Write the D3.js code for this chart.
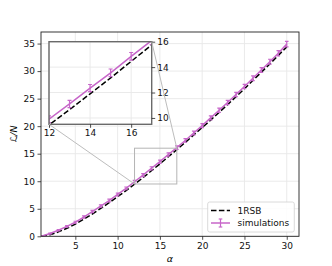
<!DOCTYPE html>
<html>
<head>
<meta charset="utf-8">
<script src="https://cdn.jsdelivr.net/npm/d3@7"></script>
<style>
  body { margin: 0; background: #fff; }
  text { font-family: "DejaVu Sans", sans-serif; }
</style>
</head>
<body>
<div id="chart"></div>
<script>
var width = 332, height = 266;

// data
var alpha = [1, 2, 3, 4, 5, 6, 7, 8, 9, 10, 11, 12, 13, 14, 15,
             16, 17, 18, 19, 20, 21, 22, 23, 24, 25, 26, 27, 28, 29, 30];
var simValues = [0.0, 0.5, 1.1, 1.8, 2.55, 3.5, 4.5, 5.5, 6.5, 7.6, 8.7, 9.9, 11.1, 12.35, 13.55,
                 14.85, 16.1, 17.4, 18.75, 20.1, 21.5, 22.9, 24.3, 25.75, 27.2, 28.7, 30.2, 31.7, 33.25, 34.9];
var simErrors = [0.05, 0.1, 0.12, 0.15, 0.18, 0.2, 0.2, 0.22, 0.24, 0.25, 0.25, 0.27, 0.28, 0.28, 0.3,
                 0.3, 0.32, 0.32, 0.34, 0.35, 0.36, 0.38, 0.38, 0.4, 0.4, 0.42, 0.44, 0.45, 0.48, 0.5];
var rsbValues = [0.0, 0.3, 0.8, 1.45, 2.2, 3.1, 4.05, 5.05, 6.1, 7.2, 8.3, 9.45, 10.65, 11.9, 13.15,
                 14.45, 15.75, 17.05, 18.4, 19.75, 21.1, 22.5, 23.9, 25.35, 26.8, 28.3, 29.8, 31.3, 32.85, 34.4];
var xTicks = [5, 10, 15, 20, 25, 30];
var yTicks = [0, 5, 10, 15, 20, 25, 30, 35];
var insetXTicks = [12, 14, 16];
var insetYTicks = [10, 12, 14, 16];
var legendLabels = ["1RSB", "simulations"];

var simColor = "#c766c9";
var gridColor = "#e8e8e8";

var svg = d3.select('#chart').append('svg')
    .attr('width', width)
    .attr('height', height);

// main axes
var x = d3.scaleLinear().domain([0.94, 31.45]).range([41, 299]);
var y = d3.scaleLinear().domain([0, 37.1]).range([236.3, 32]);

var defs = svg.append('defs');
defs.append('clipPath').attr('id', 'mainClip').append('rect')
    .attr('x', 41).attr('y', 32).attr('width', 258).attr('height', 204.3);

var main = svg.append('g');

main.append('g').selectAll('line')
    .data(xTicks).enter().append('line')
    .attr('x1', d => x(d)).attr('x2', d => x(d))
    .attr('y1', 32).attr('y2', 236.3)
    .attr('stroke', gridColor).attr('stroke-width', 0.9);
main.append('g').selectAll('line')
    .data(yTicks).enter().append('line')
    .attr('x1', 41).attr('x2', 299)
    .attr('y1', d => y(d)).attr('y2', d => y(d))
    .attr('stroke', gridColor).attr('stroke-width', 0.9);

var line = d3.line();

var plot = main.append('g').attr('clip-path', 'url(#mainClip)');

function drawSeries(g, xs, ys, capW) {
  g.append('path')
      .attr('d', line.x((d, i) => xs(alpha[i])).y(d => ys(d))(rsbValues))
      .attr('fill', 'none')
      .attr('stroke', '#000')
      .attr('stroke-width', 1.5)
      .attr('stroke-dasharray', '5.5,2.4');
  g.append('path')
      .attr('d', line.x((d, i) => xs(alpha[i])).y(d => ys(d))(simValues))
      .attr('fill', 'none')
      .attr('stroke', simColor)
      .attr('stroke-width', 1.5);
  var eb = g.append('g').selectAll('g')
      .data(simValues).enter().append('g')
      .attr('stroke', simColor)
      .attr('stroke-width', 1.2);
  eb.append('line')
      .attr('x1', (d, i) => xs(alpha[i])).attr('x2', (d, i) => xs(alpha[i]))
      .attr('y1', (d, i) => ys(d - simErrors[i])).attr('y2', (d, i) => ys(d + simErrors[i]));
  eb.append('line')
      .attr('x1', (d, i) => xs(alpha[i]) - capW).attr('x2', (d, i) => xs(alpha[i]) + capW)
      .attr('y1', (d, i) => ys(d - simErrors[i])).attr('y2', (d, i) => ys(d - simErrors[i]));
  eb.append('line')
      .attr('x1', (d, i) => xs(alpha[i]) - capW).attr('x2', (d, i) => xs(alpha[i]) + capW)
      .attr('y1', (d, i) => ys(d + simErrors[i])).attr('y2', (d, i) => ys(d + simErrors[i]));
}

drawSeries(plot, x, y, 1.8);

// zoom rectangle
var rx0 = x(12), rx1 = x(17), ry0 = y(16), ry1 = y(9.5);
main.append('rect')
    .attr('x', rx0).attr('y', ry0)
    .attr('width', rx1 - rx0).attr('height', ry1 - ry0)
    .attr('fill', 'none').attr('stroke', '#b5b5b5').attr('stroke-width', 1);

// spines
main.append('rect')
    .attr('x', 41).attr('y', 32).attr('width', 258).attr('height', 204.3)
    .attr('fill', 'none').attr('stroke', '#222').attr('stroke-width', 0.9);

var xAxis = d3.axisBottom(x).tickValues(xTicks).tickSize(3.5).tickPadding(2.5);
var yAxis = d3.axisLeft(y).tickValues(yTicks).tickSize(3.5).tickPadding(2.5);
var gx = main.append('g').attr('transform', 'translate(0,236.3)').call(xAxis);
var gy = main.append('g').attr('transform', 'translate(41,0)').call(yAxis);
[gx, gy].forEach(function(g) {
  g.select('.domain').remove();
  g.selectAll('line').attr('stroke', '#222').attr('stroke-width', 0.8);
  g.selectAll('text').attr('font-size', 9).attr('fill', '#111')
    .style('font-family', '"DejaVu Sans", sans-serif');
});

svg.append('text')
    .attr('x', x((0.94 + 31.45) / 2)).attr('y', 262)
    .attr('text-anchor', 'middle')
    .attr('font-size', 9.5).attr('font-style', 'italic')
    .text('α');
svg.append('text')
    .attr('transform', 'translate(17,134) rotate(-90)')
    .attr('text-anchor', 'middle')
    .attr('font-size', 9.5).attr('font-style', 'italic')
    .text('ℒ/N');

// legend
var leg = svg.append('g');
leg.append('rect')
    .attr('x', 207.7).attr('y', 202).attr('width', 86.6).attr('height', 30)
    .attr('rx', 2).attr('fill', 'rgba(255,255,255,0.85)')
    .attr('stroke', '#d0d0d0').attr('stroke-width', 0.8);
leg.append('line')
    .attr('x1', 211).attr('x2', 230).attr('y1', 210.5).attr('y2', 210.5)
    .attr('stroke', '#000').attr('stroke-width', 1.5).attr('stroke-dasharray', '5.5,2.4');
leg.append('line')
    .attr('x1', 211).attr('x2', 230).attr('y1', 223).attr('y2', 223)
    .attr('stroke', simColor).attr('stroke-width', 1.5);
var legEb = leg.append('g').attr('stroke', simColor).attr('stroke-width', 1.2);
legEb.append('line').attr('x1', 220.5).attr('x2', 220.5).attr('y1', 219).attr('y2', 227);
legEb.append('line').attr('x1', 218.7).attr('x2', 222.3).attr('y1', 219).attr('y2', 219);
legEb.append('line').attr('x1', 218.7).attr('x2', 222.3).attr('y1', 227).attr('y2', 227);
leg.selectAll('text.lab')
    .data(legendLabels).enter().append('text')
    .attr('class', 'lab')
    .attr('x', 237.5)
    .attr('y', (d, i) => 213.8 + i * 12.5)
    .attr('font-size', 9)
    .attr('fill', '#111')
    .text(d => d);

// inset
var ix = d3.scaleLinear().domain([12, 17]).range([49, 151.7]);
var iy = d3.scaleLinear().domain([9.5, 16]).range([124.3, 41.7]);

defs.append('clipPath').attr('id', 'insetClip').append('rect')
    .attr('x', 49).attr('y', 41.7).attr('width', 102.7).attr('height', 82.6);

var inset = svg.append('g');
inset.append('rect')
    .attr('x', 49).attr('y', 41.7).attr('width', 102.7).attr('height', 82.6)
    .attr('fill', '#fff');
inset.append('g').selectAll('line')
    .data(insetXTicks).enter().append('line')
    .attr('x1', d => ix(d)).attr('x2', d => ix(d))
    .attr('y1', 41.7).attr('y2', 124.3)
    .attr('stroke', gridColor).attr('stroke-width', 0.9);
inset.append('g').selectAll('line')
    .data(insetYTicks).enter().append('line')
    .attr('x1', 49).attr('x2', 151.7)
    .attr('y1', d => iy(d)).attr('y2', d => iy(d))
    .attr('stroke', gridColor).attr('stroke-width', 0.9);

var iplot = inset.append('g').attr('clip-path', 'url(#insetClip)');
drawSeries(iplot, ix, iy, 2);

inset.append('rect')
    .attr('x', 49).attr('y', 41.7).attr('width', 102.7).attr('height', 82.6)
    .attr('fill', 'none').attr('stroke', '#6a6a6a').attr('stroke-width', 1.4);

var ixAxis = d3.axisBottom(ix).tickValues(insetXTicks).tickFormat(d3.format('d'))
    .tickSize(3.5).tickPadding(1.5);
var iyAxis = d3.axisRight(iy).tickValues(insetYTicks).tickFormat(d3.format('d'))
    .tickSize(3.5).tickPadding(2);
var gix = inset.append('g').attr('transform', 'translate(0,124.3)').call(ixAxis);
var giy = inset.append('g').attr('transform', 'translate(151.7,0)').call(iyAxis);
[gix, giy].forEach(function(g) {
  g.select('.domain').remove();
  g.selectAll('line').attr('stroke', '#222').attr('stroke-width', 0.8);
  g.selectAll('text').attr('font-size', 9).attr('fill', '#111')
    .style('font-family', '"DejaVu Sans", sans-serif');
});

// connectors from inset corners to zoom rectangle
svg.append('line')
    .attr('x1', ix(12)).attr('y1', iy(9.5)).attr('x2', rx0).attr('y2', ry1)
    .attr('stroke', '#bdbdbd').attr('stroke-width', 1);
svg.append('line')
    .attr('x1', ix(17)).attr('y1', iy(16)).attr('x2', rx1).attr('y2', ry0)
    .attr('stroke', '#bdbdbd').attr('stroke-width', 1);
</script>
</body>
</html>
